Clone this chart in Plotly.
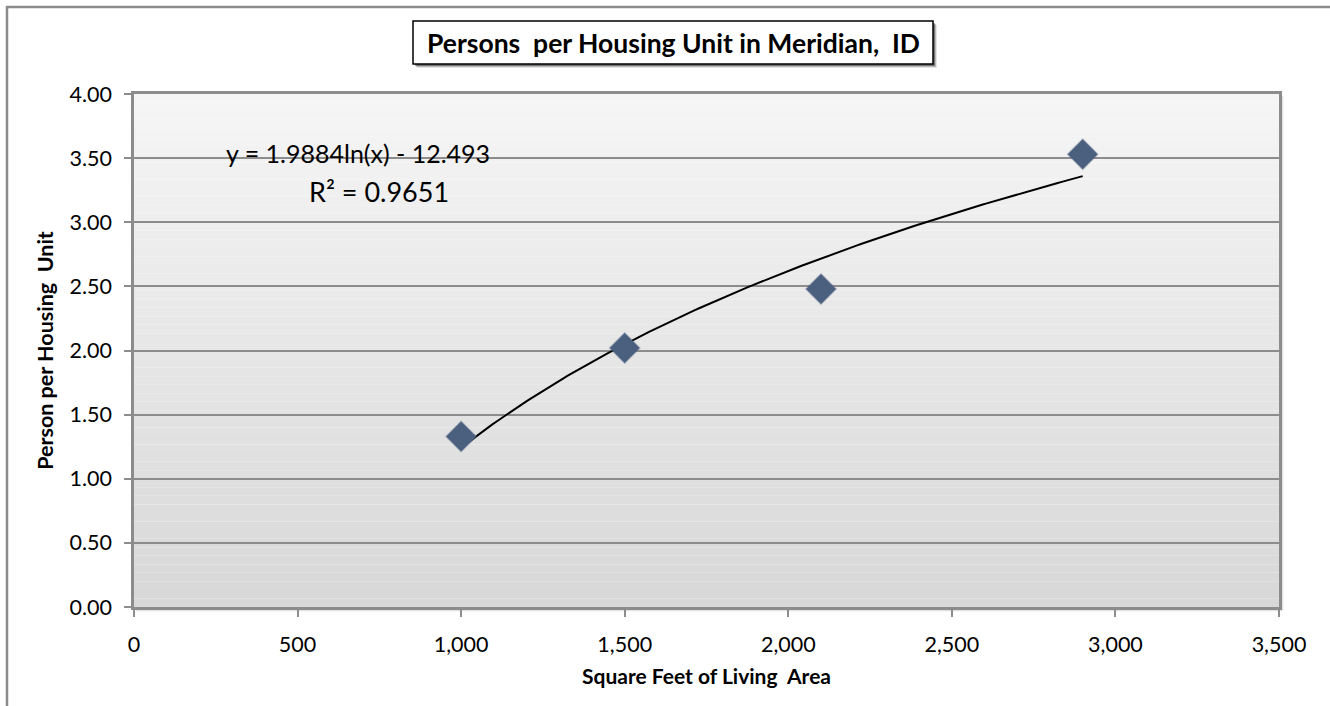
import numpy as np
import plotly.graph_objects as go

# Living area (sq ft) and persons per housing unit
sq_feet = [1000, 1500, 2100, 2900]
persons = [1.33, 2.02, 2.48, 3.53]

# Logarithmic trend line coefficients: y = a*ln(x) + b
coef_a = 1.9884
coef_b = -12.493
r_squared = 0.9651

x_ticks = [0, 500, 1000, 1500, 2000, 2500, 3000, 3500]
y_ticks = [0.0, 0.5, 1.0, 1.5, 2.0, 2.5, 3.0, 3.5, 4.0]

W, H = 1330, 706
L, R, T, B = 134, 51, 94, 99
PW, PH = W - L - R, H - T - B


def px_x(p):
    return (p - L) / PW


def px_y(p):
    return (H - B - p) / PH


FONT = "Lato"
AXIS_GREY = "#8c8c8c"

fig = go.Figure()

# Trend line
xt = np.linspace(min(sq_feet), max(sq_feet), 200)
yt = coef_a * np.log(xt) + coef_b
fig.add_trace(go.Scatter(x=xt, y=yt, mode="lines",
                         line=dict(color="black", width=2),
                         hoverinfo="skip", showlegend=False))

# Data points
fig.add_trace(go.Scatter(x=sq_feet, y=persons, mode="markers",
                         marker=dict(symbol="diamond", size=25,
                                     color="rgba(75,95,127,0.35)",
                                     line=dict(width=0)),
                         hoverinfo="skip", showlegend=False))
fig.add_trace(go.Scatter(x=sq_feet, y=persons, mode="markers",
                         marker=dict(symbol="diamond", size=23,
                                     color="#4b5f7f",
                                     line=dict(width=0)),
                         showlegend=False))

shapes = []
# Plot area gradient: light at top, grey at bottom
n_bands = 60
c_top = np.array([246, 246, 246])
c_bot = np.array([216, 216, 216])
for i in range(n_bands):
    f = (i + 0.5) / n_bands
    c = (c_top * (1 - f) + c_bot * f).astype(int)
    shapes.append(dict(type="rect", xref="paper", yref="paper",
                       x0=0, x1=1, y0=1 - (i + 1) / n_bands, y1=1 - i / n_bands,
                       fillcolor=f"rgb({c[0]},{c[1]},{c[2]})",
                       line=dict(width=0), layer="below"))

# Soft shadow along the right and bottom edges of the plot area
for k, a in enumerate([0.18, 0.10, 0.05]):
    off = k + 2
    shapes.append(dict(type="line", xref="paper", yref="paper",
                       x0=1 + off / PW, x1=1 + off / PW, y0=-off / PH, y1=1 - 2 / PH,
                       line=dict(color=f"rgba(0,0,0,{a})", width=1.5), layer="below"))
    shapes.append(dict(type="line", xref="paper", yref="paper",
                       x0=2 / PW, x1=1 + off / PW, y0=-off / PH, y1=-off / PH,
                       line=dict(color=f"rgba(0,0,0,{a})", width=1.5), layer="below"))

# Outer chart border
shapes.append(dict(type="rect", xref="paper", yref="paper",
                   x0=px_x(7), x1=px_x(1340), y0=px_y(716), y1=px_y(7),
                   line=dict(color=AXIS_GREY, width=2.5), fillcolor="rgba(0,0,0,0)"))

# Title box with drop shadow
bx0, bx1, by0, by1 = 413, 933, 21, 64
for k, a in enumerate([0.35, 0.2, 0.1]):
    off = k + 2
    shapes.append(dict(type="rect", xref="paper", yref="paper",
                       x0=px_x(bx0 + off), x1=px_x(bx1 + off),
                       y0=px_y(by1 + off), y1=px_y(by0 + off),
                       line=dict(width=0), fillcolor=f"rgba(0,0,0,{a})"))
shapes.append(dict(type="rect", xref="paper", yref="paper",
                   x0=px_x(bx0), x1=px_x(bx1), y0=px_y(by1), y1=px_y(by0),
                   line=dict(color="black", width=1.5), fillcolor="white"))

annotations = [
    dict(text="<b>Persons  per Housing Unit in Meridian,  ID</b>",
         xref="paper", yref="paper", x=px_x(673), y=px_y((by0 + by1) / 2),
         showarrow=False, font=dict(family=FONT, size=26.5, color="black"),
         xanchor="center", yanchor="middle"),
    dict(text=f"y = {coef_a}ln(x) - {abs(coef_b)}",
         xref="paper", yref="paper", x=px_x(224), y=px_y(153),
         showarrow=False, font=dict(family=FONT, size=25, color="black"),
         xanchor="left", yanchor="middle"),
    dict(text=f"R² = {r_squared}",
         xref="paper", yref="paper", x=px_x(307), y=px_y(191),
         showarrow=False, font=dict(family=FONT, size=27, color="black"),
         xanchor="left", yanchor="middle"),
]

fig.update_layout(
    width=W, height=H,
    margin=dict(l=L, r=R, t=T, b=B),
    paper_bgcolor="white",
    plot_bgcolor="rgba(0,0,0,0)",
    shapes=shapes,
    annotations=annotations,
    font=dict(family=FONT, size=21, color="black"),
    xaxis=dict(range=[0, 3500], tickvals=x_ticks,
               ticktext=[f"{v:,}" for v in x_ticks],
               showgrid=False, zeroline=False,
               showline=True, linecolor=AXIS_GREY, linewidth=2.5, mirror=True,
               ticks="outside", ticklen=7, tickcolor=AXIS_GREY, tickwidth=2,
               ticklabelstandoff=9,
               tickfont=dict(family=FONT, size=21.5),
               title=dict(text="<b>Square Feet of Living  Area</b>",
                          font=dict(family=FONT, size=21), standoff=14)),
    yaxis=dict(range=[0, 4], tickvals=y_ticks,
               ticktext=[f"{v:.2f}" for v in y_ticks],
               showgrid=True, gridcolor=AXIS_GREY, gridwidth=2, zeroline=False,
               showline=True, linecolor=AXIS_GREY, linewidth=2.5, mirror=True,
               ticks="outside", ticklen=7, tickcolor=AXIS_GREY, tickwidth=2,
               ticklabelstandoff=8,
               tickfont=dict(family=FONT, size=21.5),
               title=dict(text="<b>Person per Housing  Unit</b>",
                          font=dict(family=FONT, size=21.5), standoff=10)),
)

fig.write_html("out.html")
